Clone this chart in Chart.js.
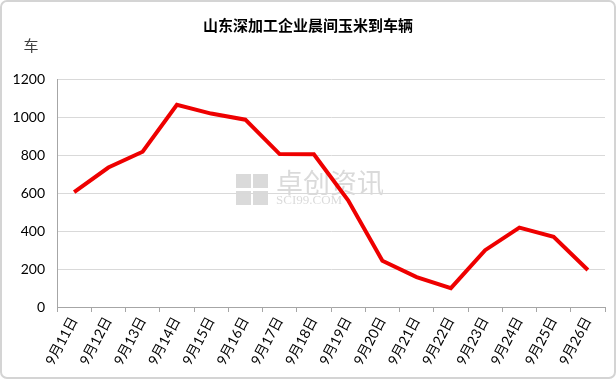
<!DOCTYPE html>
<html>
<head>
<meta charset="utf-8">
<script src="https://cdn.jsdelivr.net/npm/chart.js@4"></script>
<style>
  html, body { margin: 0; padding: 0; background: #fff; }
  #wrap { width: 616px; height: 379px; }
</style>
</head>
<body>
<div id="wrap"><canvas id="carChart" width="616" height="379"></canvas></div>
<script>
// 日期与到车辆（车）
const dias = ['9月11日', '9月12日', '9月13日', '9月14日', '9月15日', '9月16日', '9月17日', '9月18日',
              '9月19日', '9月20日', '9月21日', '9月22日', '9月23日', '9月24日', '9月25日', '9月26日'];
const vehiculos = [605, 734, 817, 1064, 1018, 986, 805, 804, 562, 243, 157, 99, 299, 418, 369, 195];
const ticksY = [0, 200, 400, 600, 800, 1000, 1200];

const titulo = '山东深加工企业晨间玉米到车辆';
const unidad = '车';

// fondo, marco, título, unidad y marca de agua
const decoraciones = {
    id: 'decoraciones',
    beforeDraw(chart) {
        const c = chart.ctx;
        c.save();
        c.fillStyle = '#ffffff';
        c.fillRect(0, 0, chart.width, chart.height);
        c.strokeStyle = '#d4d4d4';
        c.lineWidth = 2;
        c.beginPath();
        c.roundRect(1, 1, chart.width - 2, chart.height - 2, 6);
        c.stroke();

        // marca de agua
        const cx = 236, cy = 190;
        c.fillStyle = 'rgba(150,150,150,0.35)';
        c.fillRect(cx, cy - 16, 15, 14);
        c.fillRect(cx + 17, cy - 16, 15, 14);
        c.fillRect(cx, cy + 1, 15, 14);
        c.fillRect(cx + 17, cy + 1, 15, 14);
        c.font = '27px "Noto Sans CJK SC"';
        c.textBaseline = 'middle';
        c.fillText('卓创资讯', cx + 40, cy - 7);
        c.font = '13px "Liberation Serif"';
        c.fillText('SCI99.COM', cx + 40, cy + 11);
        c.restore();
    },
    afterDraw(chart) {
        const c = chart.ctx;
        c.save();
        c.fillStyle = '#000';
        c.textAlign = 'center';
        c.textBaseline = 'middle';
        c.font = 'bold 15px "Noto Sans CJK SC"';
        c.fillText(titulo, chart.width / 2, 25);
        c.font = '15px "Noto Sans CJK SC"';
        c.fillStyle = '#404040';
        c.fillText(unidad, 31, 45);
        c.restore();
    }
};

const ctx = document.getElementById('carChart').getContext('2d');
new Chart(ctx, {
    type: 'line',
    data: {
        labels: dias,
        datasets: [{
            data: vehiculos,
            borderColor: '#ee0000',
            borderWidth: 4,
            pointRadius: 0,
            tension: 0,
            fill: false
        }]
    },
    options: {
        responsive: false,
        animation: false,
        layout: { padding: { top: 79, right: 11, left: 0, bottom: 0 } },
        plugins: {
            legend: { display: false },
            tooltip: { enabled: false }
        },
        scales: {
            x: {
                offset: true,
                grid: {
                    offset: true,
                    drawOnChartArea: false,
                    drawTicks: true,
                    tickLength: 5,
                    color: '#a6a6a6'
                },
                border: { color: '#a6a6a6', width: 1 },
                ticks: {
                    autoSkip: false,
                    maxRotation: 62,
                    minRotation: 62,
                    padding: 2,
                    color: '#000',
                    font: { family: 'Lato, "Noto Sans CJK SC"', size: 14 }
                },
                afterFit(scale) { scale.height = 72; }
            },
            y: {
                min: 0,
                max: 1200,
                afterBuildTicks(scale) { scale.ticks = ticksY.map(v => ({ value: v })); },
                grid: { color: '#d9d9d9', lineWidth: 1, drawTicks: false },
                border: { color: '#a6a6a6', width: 1 },
                ticks: {
                    padding: 12,
                    color: '#000',
                    font: { family: 'Lato', size: 14 },
                    callback: v => String(v)
                },
                afterFit(scale) { scale.width = 57; }
            }
        }
    },
    plugins: [decoraciones]
});
</script>
</body>
</html>
